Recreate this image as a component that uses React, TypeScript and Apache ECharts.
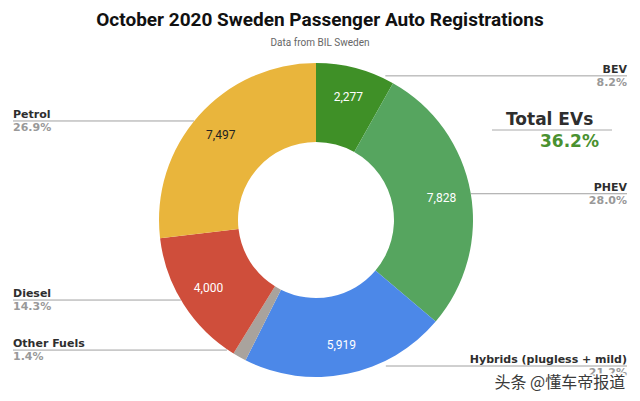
import React, { useEffect, useRef } from "react";
import * as echarts from "echarts";

const categories = ["BEV", "PHEV", "Hybrids (plugless + mild)", "Other Fuels", "Diesel", "Petrol"];
const registrations = [2277, 7828, 5919, 391, 4000, 7497];
const percentLabels = ["8.2%", "28.0%", "21.2%", "1.4%", "14.3%", "26.9%"];
const sliceColors = ["#3f9027", "#56a55f", "#4c88e8", "#a9a39d", "#cf4e3b", "#e9b53c"];
const valueLabelColors = ["#ffffff", "#ffffff", "#ffffff", "#ffffff", "#ffffff", "#222222"];
const totalEvsLabel = "Total EVs";
const totalEvsValue = "36.2%";

export default function App() {
  const ref = useRef<HTMLDivElement>(null);
  useEffect(() => {
    if (!ref.current) return;
    const chart = echarts.init(ref.current, null, { renderer: "svg" });
    const center = [316, 220];
    const outerData = categories.map((name, i) => ({
      name,
      value: registrations[i],
      itemStyle: { color: sliceColors[i] },
    }));
    const innerData = categories.map((name, i) => ({
      name,
      value: registrations[i],
      itemStyle: { color: "rgba(0,0,0,0)" },
      label: { show: i !== 3, color: valueLabelColors[i] },
    }));
    chart.setOption({
      animation: false,
      backgroundColor: "#ffffff",
      title: {
        text: "October 2020 Sweden Passenger Auto Registrations",
        subtext: "Data from BIL Sweden",
        left: "center",
        top: 5,
        itemGap: 8,
        textStyle: { fontFamily: "Roboto", fontWeight: "bold", fontSize: 19, color: "#111111" },
        subtextStyle: { fontFamily: "Roboto", fontSize: 10, color: "#666666" },
      },
      graphic: [
        {
          type: "text",
          left: 506,
          top: 110,
          style: {
            text: totalEvsLabel,
            fontFamily: "DejaVu Sans",
            fontWeight: "bold",
            fontSize: 17,
            fill: "#2e2e2e",
          },
        },
        {
          type: "line",
          shape: { x1: 492, y1: 130, x2: 612, y2: 130 },
          style: { stroke: "#aaaaaa", lineWidth: 1 },
        },
        {
          type: "text",
          left: 540,
          top: 132,
          style: {
            text: totalEvsValue,
            fontFamily: "DejaVu Sans",
            fontWeight: "bold",
            fontSize: 17,
            fill: "#4a9130",
          },
        },
        {
          type: "text",
          left: 493,
          top: 371,
          z: 100,
          style: {
            text: "头条 @懂车帝报道",
            fontFamily: "Noto Sans CJK SC",
            fontSize: 16,
            fill: "#3a3a3a",
            stroke: "#ffffff",
            lineWidth: 3,
          },
        },
      ],
      series: [
        {
          type: "pie",
          center,
          radius: [78, 157],
          startAngle: 90,
          clockwise: true,
          avoidLabelOverlap: true,
          data: outerData,
          label: {
            show: true,
            position: "outside",
            alignTo: "edge",
            edgeDistance: 13,
            formatter: (p: any) => `{n|${p.name}}\n{p|${percentLabels[p.dataIndex]}}`,
            rich: {
              n: { fontFamily: "DejaVu Sans", fontWeight: "bold", fontSize: 11, color: "#2e2e2e", lineHeight: 13 },
              p: { fontFamily: "DejaVu Sans", fontWeight: "bold", fontSize: 11, color: "#999999", lineHeight: 13 },
            },
          },
          labelLine: {
            show: true,
            length: -8,
            length2: 5,
            lineStyle: { color: "#a0a0a0", width: 1 },
          },
          labelLayout: (params: any) => {
            const pts = params.labelLinePoints;
            const r = params.labelRect;
            if (!pts || !r) return {};
            const p1 = pts[1];
            const cy = r.y + r.height / 2;
            const isLeft = p1[0] < center[0];
            const edgeX = isLeft ? r.x : r.x + r.width;
            return { labelLinePoints: [[p1[0], p1[1]], [edgeX, cy]] };
          },
          emphasis: { disabled: true },
        },
        {
          type: "pie",
          center,
          radius: [92, 157],
          startAngle: 90,
          clockwise: true,
          silent: true,
          data: innerData,
          label: {
            show: true,
            position: "inside",
            fontFamily: "Roboto",
            fontSize: 12,
            formatter: (p: any) => Number(p.value).toLocaleString("en-US"),
          },
          labelLine: { show: false },
          emphasis: { disabled: true },
        },
      ],
    });
    return () => chart.dispose();
  }, []);
  return <div ref={ref} style={{ width: 640, height: 401, margin: -8 }} />;
}
